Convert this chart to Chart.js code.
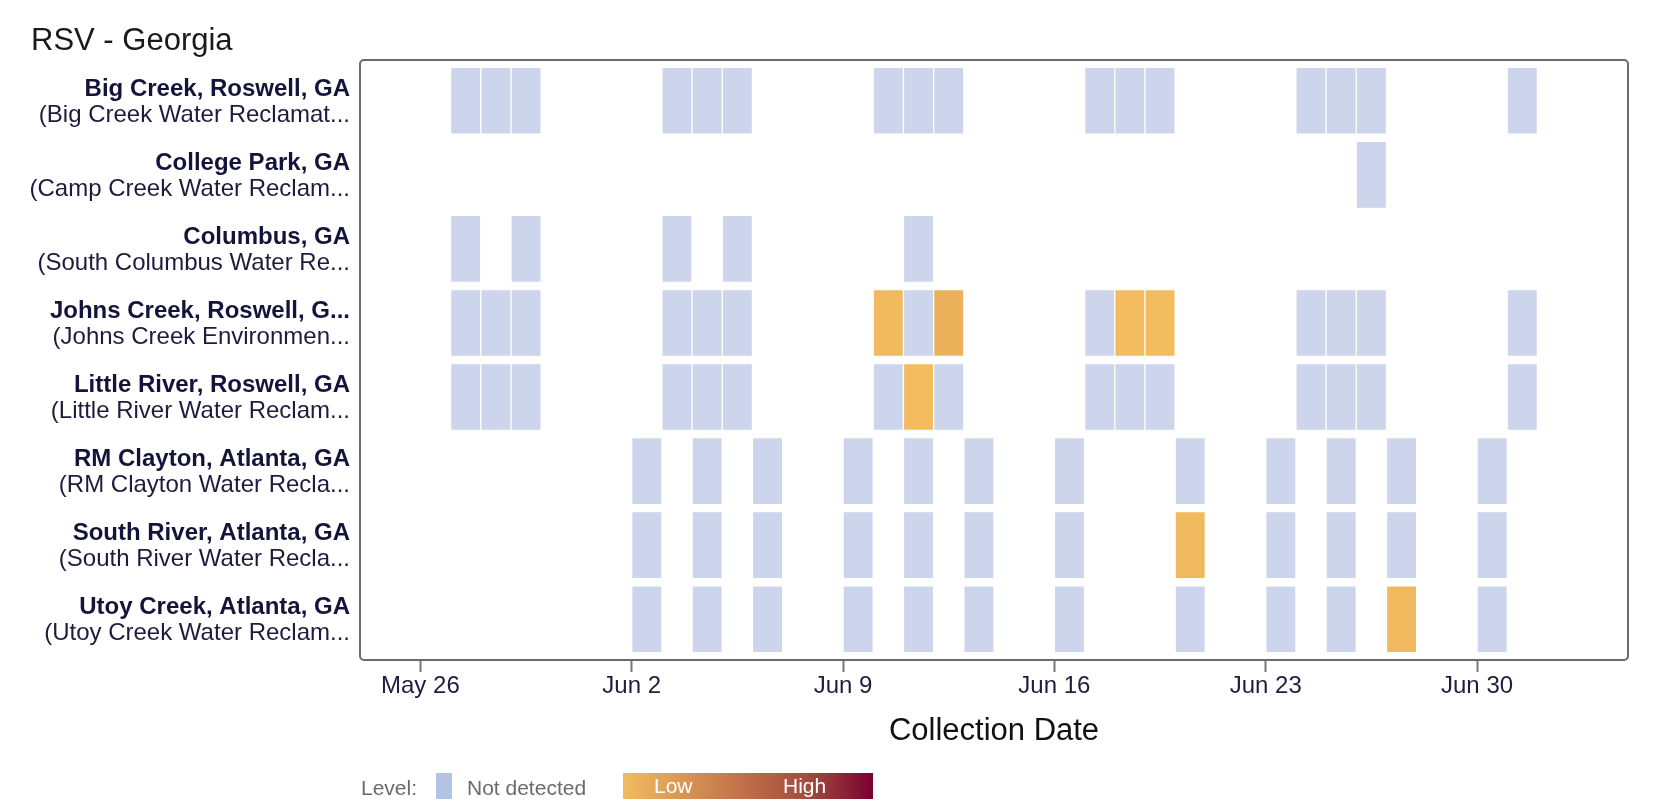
<!DOCTYPE html>
<html>
<head>
<meta charset="utf-8">
<title>RSV - Georgia</title>
<script src="https://cdn.jsdelivr.net/npm/chart.js@4.4.1/dist/chart.umd.min.js"></script>
<style>
    html, body { margin: 0; padding: 0; background: #ffffff; }
    #wrap { width: 1668px; height: 810px; }
</style>
</head>
<body>
<div id="wrap"><canvas id="heatChart" width="1668" height="810"></canvas></div>
<script>
const sites = [
    'Big Creek, Roswell, GA',
    'College Park, GA',
    'Columbus, GA',
    'Johns Creek, Roswell, G...',
    'Little River, Roswell, GA',
    'RM Clayton, Atlanta, GA',
    'South River, Atlanta, GA',
    'Utoy Creek, Atlanta, GA'
];
const plants = [
    '(Big Creek Water Reclamat...',
    '(Camp Creek Water Reclam...',
    '(South Columbus Water Re...',
    '(Johns Creek Environmen...',
    '(Little River Water Reclam...',
    '(RM Clayton Water Recla...',
    '(South River Water Recla...',
    '(Utoy Creek Water Reclam...'
];

const tickDays = [0, 7, 14, 21, 28, 35];
const tickLabels = ['May 26', 'Jun 2', 'Jun 9', 'Jun 16', 'Jun 23', 'Jun 30'];
const firstDay = '2024-05-26';

// sampled dates for each site
const bigCreekDates = ['2024-05-27', '2024-05-28', '2024-05-29', '2024-06-03', '2024-06-04', '2024-06-05',
    '2024-06-10', '2024-06-11', '2024-06-12', '2024-06-17', '2024-06-18', '2024-06-19',
    '2024-06-24', '2024-06-25', '2024-06-26', '2024-07-01'];
const collegeParkDates = ['2024-06-26'];
const columbusDates = ['2024-05-27', '2024-05-29', '2024-06-03', '2024-06-05', '2024-06-11'];
const johnsCreekDates = ['2024-05-27', '2024-05-28', '2024-05-29', '2024-06-03', '2024-06-04', '2024-06-05',
    '2024-06-10', '2024-06-11', '2024-06-12', '2024-06-17', '2024-06-18', '2024-06-19',
    '2024-06-24', '2024-06-25', '2024-06-26', '2024-07-01'];
const littleRiverDates = ['2024-05-27', '2024-05-28', '2024-05-29', '2024-06-03', '2024-06-04', '2024-06-05',
    '2024-06-10', '2024-06-11', '2024-06-12', '2024-06-17', '2024-06-18', '2024-06-19',
    '2024-06-24', '2024-06-25', '2024-06-26', '2024-07-01'];
const rmClaytonDates = ['2024-06-02', '2024-06-04', '2024-06-06', '2024-06-09', '2024-06-11', '2024-06-13',
    '2024-06-16', '2024-06-20', '2024-06-23', '2024-06-25', '2024-06-27', '2024-06-30'];
const southRiverDates = ['2024-06-02', '2024-06-04', '2024-06-06', '2024-06-09', '2024-06-11', '2024-06-13',
    '2024-06-16', '2024-06-20', '2024-06-23', '2024-06-25', '2024-06-27', '2024-06-30'];
const utoyCreekDates = ['2024-06-02', '2024-06-04', '2024-06-06', '2024-06-09', '2024-06-11', '2024-06-13',
    '2024-06-16', '2024-06-20', '2024-06-23', '2024-06-25', '2024-06-27', '2024-06-30'];

// detections: [site row, date, level 0 (low) .. 1 (high)]
const detections = [
    [3, '2024-06-10', 0.01],
    [3, '2024-06-12', 0.06],
    [3, '2024-06-18', 0.0],
    [3, '2024-06-19', 0.0],
    [4, '2024-06-11', 0.0],
    [6, '2024-06-20', 0.02],
    [7, '2024-06-27', 0.02]
];

const levelStops = [[0, '#f2bc5e'], [0.45, '#c4744b'], [0.75, '#a04a3e'], [1, '#7b0031']];

const FONT = '"Liberation Sans", Arial, Helvetica, sans-serif';
const siteDates = [bigCreekDates, collegeParkDates, columbusDates, johnsCreekDates,
    littleRiverDates, rmClaytonDates, southRiverDates, utoyCreekDates];

function dayNumber(d) {
    return (Date.parse(d) - Date.parse(firstDay)) / 86400000;
}

function hexToRgb(h) {
    return [parseInt(h.slice(1, 3), 16), parseInt(h.slice(3, 5), 16), parseInt(h.slice(5, 7), 16)];
}

function levelColor(v) {
    for (let i = 1; i < levelStops.length; i++) {
        if (v <= levelStops[i][0]) {
            const a = levelStops[i - 1], b = levelStops[i];
            const t = (v - a[0]) / (b[0] - a[0]);
            const ca = hexToRgb(a[1]), cb = hexToRgb(b[1]);
            const c = ca.map((x, k) => Math.round(x + (cb[k] - x) * t));
            return 'rgb(' + c.join(',') + ')';
        }
    }
    return levelStops[levelStops.length - 1][1];
}

const notDetected = [];
const detectedTiles = [];
const detectedColors = [];
siteDates.forEach(function(dates, row) {
    dates.forEach(function(d) {
        const day = dayNumber(d);
        const hit = detections.find(h => h[0] === row && h[1] === d);
        if (hit) {
            detectedTiles.push({ x: [day, day + 1], y: row });
            detectedColors.push(levelColor(hit[2]));
        } else {
            notDetected.push({ x: [day, day + 1], y: row });
        }
    });
});

// title, site labels, frame, axis title and level legend
const decorPlugin = {
    id: 'decor',
    afterDraw(chart) {
        const ctx = chart.ctx;
        const area = chart.chartArea;
        const yScale = chart.scales.y;
        ctx.save();

        ctx.strokeStyle = '#6b6b6b';
        ctx.lineWidth = 2;
        ctx.beginPath();
        ctx.roundRect(area.left, area.top, area.right - area.left, area.bottom - area.top, 4);
        ctx.stroke();

        ctx.fillStyle = '#1a1a1a';
        ctx.font = '31px ' + FONT;
        ctx.textAlign = 'left';
        ctx.textBaseline = 'alphabetic';
        ctx.fillText('RSV - Georgia', 31, 50);

        ctx.textAlign = 'right';
        sites.forEach(function(name, i) {
            const y = yScale.getPixelForValue(i);
            ctx.fillStyle = '#14143a';
            ctx.font = 'bold 24px ' + FONT;
            ctx.fillText(name, 350, y - 5);
            ctx.fillStyle = '#1c1c3c';
            ctx.font = '24px ' + FONT;
            ctx.fillText(plants[i], 350, y + 21);
        });

        ctx.textAlign = 'center';
        ctx.fillStyle = '#111111';
        ctx.font = '31px ' + FONT;
        ctx.fillText('Collection Date', (area.left + area.right) / 2, 740);

        // legend
        ctx.textAlign = 'left';
        ctx.font = '21px ' + FONT;
        ctx.fillStyle = '#6b6b6b';
        ctx.fillText('Level:', 361, 795);
        ctx.fillStyle = '#b3c3e6';
        ctx.fillRect(436, 773, 16, 26);
        ctx.fillStyle = '#6b6b6b';
        ctx.fillText('Not detected', 467, 795);
        const grad = ctx.createLinearGradient(623, 0, 873, 0);
        levelStops.forEach(s => grad.addColorStop(s[0], s[1]));
        ctx.fillStyle = grad;
        ctx.fillRect(623, 773, 250, 26);
        ctx.fillStyle = '#ffffff';
        ctx.fillText('Low', 654, 793);
        ctx.fillText('High', 783, 793);

        ctx.restore();
    }
};

const heatCtx = document.getElementById('heatChart').getContext('2d');
const heatChart = new Chart(heatCtx, {
    type: 'bar',
    data: {
        datasets: [
            {
                label: 'Not detected',
                data: notDetected,
                backgroundColor: '#cdd5ec',
                borderColor: 'rgba(255, 255, 255, 0.3)',
                borderWidth: 1,
                borderSkipped: false
            },
            {
                label: 'Detected',
                data: detectedTiles,
                backgroundColor: detectedColors,
                borderColor: 'rgba(255, 255, 255, 0.3)',
                borderWidth: 1,
                borderSkipped: false
            }
        ]
    },
    options: {
        indexAxis: 'y',
        responsive: false,
        animation: false,
        devicePixelRatio: 1,
        layout: { padding: { top: 60, right: 40, bottom: 0, left: 0 } },
        datasets: { bar: { grouped: false, barThickness: 67 } },
        plugins: {
            legend: { display: false },
            tooltip: { enabled: false },
            title: { display: false }
        },
        scales: {
            x: {
                type: 'linear',
                position: 'bottom',
                min: -2,
                max: 40,
                afterFit: function(scale) { scale.height = 150; },
                afterBuildTicks: function(scale) {
                    scale.ticks = tickDays.map(v => ({ value: v }));
                },
                ticks: {
                    callback: function(value) { return tickLabels[tickDays.indexOf(value)]; },
                    font: { family: FONT, size: 24 },
                    color: '#1e1e3e',
                    padding: 0,
                    maxRotation: 0,
                    autoSkip: false
                },
                grid: {
                    drawOnChartArea: false,
                    drawTicks: true,
                    tickLength: 12,
                    tickWidth: 2,
                    tickColor: '#777777'
                },
                border: { display: false }
            },
            y: {
                type: 'linear',
                min: -0.55,
                max: 7.55,
                reverse: true,
                offset: false,
                afterFit: function(scale) { scale.width = 360; },
                ticks: { display: false },
                grid: { display: false, offset: false },
                border: { display: false }
            }
        }
    },
    plugins: [decorPlugin]
});
</script>
</body>
</html>
